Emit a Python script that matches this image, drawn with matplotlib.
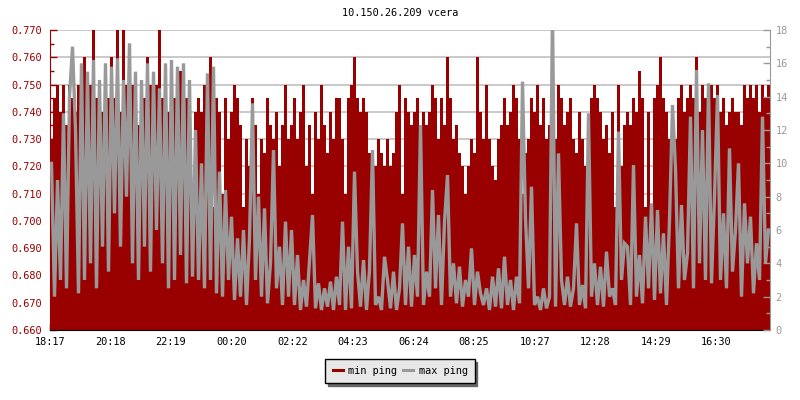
import numpy as np
import matplotlib
matplotlib.use("Agg")
import matplotlib.pyplot as plt
from matplotlib.lines import Line2D

plt.rcParams["font.family"] = ["DejaVu Sans Mono"]
plt.rcParams["font.size"] = 7.4

# min ping, thousandths of ms, one value per 6 minutes starting 18:17
min_ping_us = [
    730, 745, 750, 740, 750, 735, 750, 745, 740, 750, 750, 760, 740, 750, 770, 745,
    750, 740, 750, 745, 760, 745, 770, 740, 770, 750, 745, 750, 740, 735, 750, 745,
    760, 750, 740, 750, 770, 745, 750, 740, 750, 745, 740, 755, 750, 745, 740, 705,
    740, 745, 740, 750, 745, 760, 705, 745, 740, 710, 745, 730, 740, 750, 745, 735,
    705, 730, 720, 745, 735, 710, 730, 725, 745, 735, 730, 740, 720, 735, 750, 730,
    735, 745, 730, 740, 750, 720, 735, 710, 740, 730, 750, 735, 725, 740, 730, 745,
    745, 730, 710, 745, 750, 760, 745, 740, 745, 740, 725, 710, 720, 730, 725, 720,
    730, 720, 725, 740, 750, 710, 745, 740, 735, 740, 745, 730, 740, 735, 740, 750,
    745, 730, 745, 735, 760, 745, 730, 735, 725, 720, 710, 720, 730, 725, 760, 740,
    730, 750, 730, 720, 715, 730, 735, 745, 735, 740, 750, 745, 730, 710, 725, 730,
    745, 740, 750, 735, 745, 730, 735, 740, 730, 750, 745, 735, 740, 745, 730, 725,
    740, 730, 720, 735, 745, 750, 745, 740, 730, 735, 725, 740, 705, 750, 720, 735,
    740, 735, 745, 740, 755, 745, 705, 740, 705, 745, 750, 760, 745, 740, 730, 740,
    730, 745, 750, 740, 745, 750, 745, 760, 740, 750, 745, 740, 750, 745, 750, 740,
    745, 735, 740, 745, 740, 740, 735, 750, 745, 750, 745, 750, 740, 750, 745, 750,
]

# max ping, ms
max_ping = [
    10, 2, 9, 3, 13, 2.5, 14, 17, 12, 2.2, 16, 3, 15.5, 4, 16.2, 2.5,
    15, 5, 16, 3.5, 15.8, 7, 16.3, 5, 15, 8, 17.2, 4, 15.5, 3, 15, 5,
    16, 3.5, 15.5, 6, 14.5, 4, 16, 2.5, 16.2, 3, 15.8, 4.5, 16, 2.8, 15, 3.2,
    12, 3, 10, 2.5, 15.4, 3, 15.8, 2.2, 9.5, 2, 8.4, 3, 6.8, 1.8, 5.5, 2,
    6, 1.5, 5.5, 13.6, 3, 8, 2, 7.3, 1.6, 4, 10.8, 2.5, 5, 1.5, 6.5, 2,
    6, 1.5, 4.5, 1.2, 3, 1.4, 4.2, 6.9, 1.3, 2.8, 1.2, 2.5, 1.4, 2.9, 1.2, 3.2,
    1.5, 6.5, 1.2, 5, 1.3, 9.5, 3.5, 1.4, 4.2, 1.2, 3.6, 10.8, 1.5, 2, 1.2, 4.4,
    3, 1.3, 3.5, 1.2, 2.5, 6.4, 1.5, 5, 1.4, 4.5, 2, 12.3, 1.5, 3.5, 2, 8.4,
    2.5, 6.9, 1.5, 6.5, 9.3, 2, 4, 1.6, 3.8, 1.4, 3, 2, 4.9, 1.5, 3.5, 2.2,
    1.5, 2.5, 1.2, 3.2, 1.4, 3.7, 1.3, 4.4, 1.5, 3, 1.2, 3.2, 1.6, 14.9, 6.7, 2.5,
    8.6, 1.5, 2, 1.2, 2.5, 1.3, 2, 19, 1.4, 10.6, 3, 1.5, 3.2, 1.4, 2.5, 6.4,
    1.5, 2.7, 1.3, 13, 2, 4, 1.5, 3.8, 1.4, 4.7, 2, 2.5, 1.5, 11.9, 3, 5.2,
    5, 1.5, 9.9, 2, 4.5, 1.6, 6.8, 2.5, 7.6, 1.8, 7.2, 2.2, 5.8, 1.5, 6.6, 13.5,
    9.7, 2.5, 7.5, 3, 4.6, 12.8, 2.5, 15.6, 4, 12, 3, 14.8, 2.8, 8, 14.1, 3,
    7, 2.5, 10.9, 3.5, 6, 10, 2, 7.6, 4, 6.8, 2.2, 5.2, 3, 12.8, 4, 6,
]

tick_minutes = [0, 121, 242, 363, 485, 606, 727, 848, 970, 1091, 1212, 1333]
tick_labels = ["18:17", "20:18", "22:19", "00:20", "02:22", "04:23",
               "06:24", "08:25", "10:27", "12:28", "14:29", "16:30"]

RED = "#990000"
GRAY = "#999999"

min_ping = np.array(min_ping_us) / 1000.0
max_ping = np.array(max_ping, dtype=float)
step = 1440 / len(min_ping)
xs = np.arange(len(min_ping) + 1) * step
centers = xs[:-1] + step / 2

fig = plt.figure(figsize=(8, 4), dpi=100)
ax = fig.add_axes([50 / 800, 70 / 400, 720 / 800, 300 / 400])
ax2 = ax.twinx()

ax.set_axisbelow(True)
ax.grid(axis="y", color="#c0c0c0", linewidth=1.2)
ax.fill_between(xs, 0.660, np.append(min_ping, min_ping[-1]), step="post",
                color=RED, linewidth=0)
ax2.plot(centers, max_ping, color=GRAY, linewidth=2.4, solid_joinstyle="miter")

ax.set_xlim(0, 1440)
ax.set_ylim(0.660, 0.770)
ax2.set_ylim(0, 18)

ax.set_yticks(np.arange(0.660, 0.7701, 0.010))
ax.set_yticks(np.arange(0.665, 0.770, 0.010), minor=True)
ax.yaxis.set_major_formatter(plt.FuncFormatter(lambda v, p: f"{v:.3f}"))
ax2.set_yticks(np.arange(0, 19, 2))
ax2.set_yticks(np.arange(1, 18, 2), minor=True)
ax.set_xticks(tick_minutes)
ax.set_xticklabels(tick_labels)

ax.tick_params(axis="y", which="major", direction="in", length=5, width=1,
               colors=RED, pad=6)
ax.tick_params(axis="y", which="minor", direction="in", length=3, width=1,
               colors=RED)
ax.tick_params(axis="x", direction="in", length=5, width=1, colors="black", pad=5)
ax2.tick_params(axis="y", which="major", direction="in", length=5, width=1,
                colors=GRAY, pad=4)
ax2.tick_params(axis="y", which="minor", direction="in", length=3, width=1,
                colors=GRAY)

for a in (ax, ax2):
    a.spines["top"].set_visible(False)
ax.spines["right"].set_visible(False)
ax2.spines["left"].set_visible(False)
ax2.spines["bottom"].set_visible(False)
ax.spines["left"].set_color(RED)
ax.spines["bottom"].set_color("black")
ax2.spines["right"].set_color(GRAY)

fig.text(0.5, 1 - 13 / 400, "10.150.26.209 vcera", ha="center", va="center")

handles = [Line2D([], [], color=RED, linewidth=2.2),
           Line2D([], [], color=GRAY, linewidth=2.2)]
fig.legend(handles, ["min ping", "max ping"], loc="center",
           bbox_to_anchor=(400 / 800, 1 - 371 / 400), ncol=2, frameon=True,
           fancybox=False, facecolor="#e8e8e8", edgecolor="black", framealpha=1,
           shadow={"color": "#666666", "alpha": 1}, handlelength=1.0,
           handletextpad=0.5, columnspacing=0.6, borderpad=0.7)

fig.savefig("out.png", dpi=100)
